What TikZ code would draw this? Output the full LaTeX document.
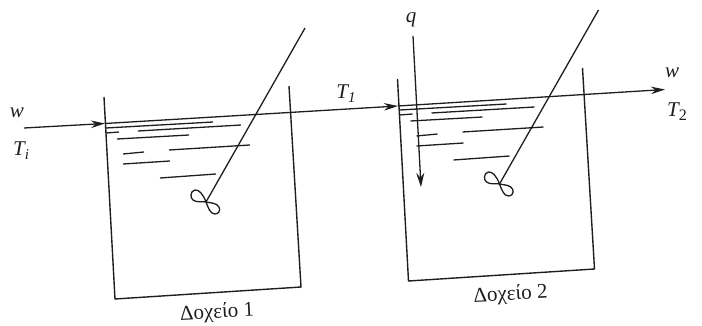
\documentclass[tikz,border=0pt]{standalone}
\usepackage{fontspec}
\setmainfont{Liberation Serif}
\usepackage{xcolor}
\usetikzlibrary{arrows.meta,positioning}
\definecolor{ink}{HTML}{1E1E1E}
\tikzset{
  wall/.style={draw=ink, line width=1.4pt},
  level/.style={draw=ink, line width=1.3pt},
  shaft/.style={draw=ink, line width=1.3pt},
  stream/.style={draw=ink, line width=1.3pt, -{Stealth[length=14pt,width=7.5pt]}},
  lbl/.style={font=\fontsize{21}{24}\selectfont\itshape, text=ink, inner sep=0pt},
  tankname/.style={font=\fontsize{21}{24}\selectfont, text=ink, inner sep=0pt, rotate=3},
}
% #1 name, #2 shift, #3 caption
\newcommand{\tank}[3]{%
  \begin{scope}[shift={(#2)}]
    \coordinate (#1tl) at (104,97);
    \coordinate (#1bl) at (115,299);
    \coordinate (#1br) at (301,287);
    \coordinate (#1tr) at (289,86);
    \coordinate (#1top) at (305,28);
    \coordinate (#1hub) at (206,202);
    \draw[wall] (#1tl) -- (#1bl) -- (#1br) -- (#1tr);
    \foreach \xa/\ya/\xb/\yb in {106/128/213/122, 138/131/241/125, 106/133/119/132, 117/139/189/135,
        123/154/144/152, 169/150/250/145, 123/164/170/161, 160/178/216/174} {%
      \draw[level] (\xa,\ya) -- (\xb,\yb);
    }
    \draw[shaft] (#1top) -- (#1hub);
    \draw[shaft] (#1hub) .. controls (203,194) and (199,189.5) .. (195,190)
      .. controls (190,191) and (190,198) .. (193,200)
      .. controls (197,203) and (202,201) .. (#1hub)
      .. controls (211,203) and (217,203) .. (219,207)
      .. controls (221,211) and (218,214) .. (215,214)
      .. controls (210,214) and (208,207) .. (#1hub);
    \node[tankname] (#1name) at (217,313) {#3};
  \end{scope}}

\begin{document}
\begin{tikzpicture}[x=1pt,y=-1pt]
  \useasboundingbox (0,0) rectangle (702,326);
  \tank{one}{0,0}{Δοχείο 1}
  \tank{two}{293.5,-18}{Δοχείο 2}
  \coordinate (in) at (24,128);
  \coordinate (s1) at (105,123.5);
  \coordinate (s2) at (398,106);
  \coordinate (out) at (665,89.5);
  \coordinate (qtop) at (413,36);
  \coordinate (qend) at (421,187);
  \draw[stream] (in) -- (s1);
  \draw[stream] (s1) -- (s2);
  \draw[stream] (s2) -- (out);
  \draw[stream, -{Stealth[length=14pt,width=8pt]}] (qtop) -- (qend);
  \node[lbl] (win) at (17,113) {w};
  \node[lbl] (ti) at (21,151) {T\raisebox{-4pt}{\fontsize{15}{18}\selectfont i}};
  \node[lbl] (t1) at (346,94) {T\raisebox{-4pt}{\fontsize{15}{18}\selectfont 1}};
  \node[lbl] (q) at (411,20) {q};
  \node[lbl] (wout) at (672,73) {w};
  \node[lbl] (t2) at (677,112) {T\raisebox{-4pt}{\fontsize{16}{18}\selectfont\upshape 2}};
\end{tikzpicture}
\end{document}
